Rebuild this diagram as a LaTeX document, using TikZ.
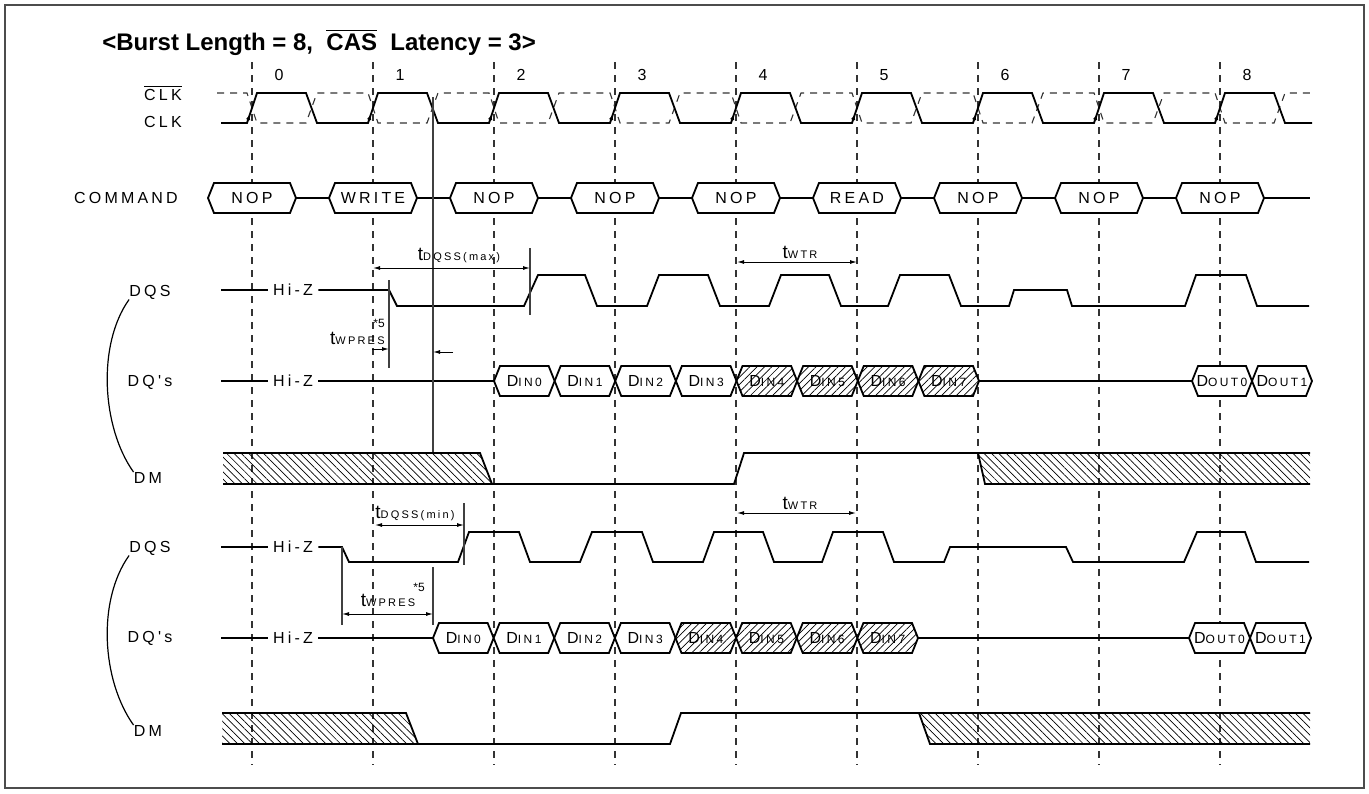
\documentclass[tikz,border=0pt]{standalone}
\usepackage{fontspec}
\setmainfont{Liberation Sans}
\newfontfamily\lsfont[LetterSpace=20]{Liberation Sans}
\usetikzlibrary{arrows.meta,patterns.meta}

\newcommand{\hexbox}[6]{%
  \draw[#1] (#2,#4) -- ({#2+6},{#4-15}) -- ({#3-6},{#4-15}) -- (#3,#4) -- ({#3-6},{#4+15}) -- ({#2+6},{#4+15}) -- cycle;
  \node[lbl] (#5) at ({(#2+#3)/2},#4) {#6};}
\newcommand{\din}[1]{D{\fontsize{6}{7}\selectfont IN#1}}
\newcommand{\dout}[1]{D{\fontsize{6}{7}\selectfont OUT#1}}
\newcommand{\tsub}[1]{{\fontsize{9.5}{10}\selectfont t}{\fontsize{5.5}{6}\selectfont #1}}

\begin{document}
\begin{tikzpicture}[x=0.5pt,y=-0.5pt,
  wave/.style={line width=0.9pt},
  gridline/.style={line width=0.55pt,black!80,dash pattern=on 3.5pt off 3pt},
  guide/.style={line width=0.6pt,black!75},
  dim/.style={line width=0.5pt,{Latex[length=3.5pt,width=2pt]}-{Latex[length=3.5pt,width=2pt]}},
  dimto/.style={line width=0.5pt,-{Latex[length=3.5pt,width=2pt]}},
  lbl/.style={inner sep=0pt,font=\lsfont\fontsize{8}{9}\selectfont},
  starnote/.style={inner sep=0pt,font=\fontsize{6}{7}\selectfont},
  hexcell/.style={wave,fill=white},
  hatchdin/.style={wave,preaction={fill=white},pattern={Lines[angle=45,distance=2.6pt,line width=0.35pt]}},
  hatchdm/.style={pattern={Lines[angle=-45,distance=2.6pt,line width=0.35pt]}}]
    \useasboundingbox (0,0) rectangle (1369,793);
    \draw[line width=1pt,black!70] (5,5) rectangle (1364,788);
    \node[anchor=base west,inner sep=0pt,font=\fontsize{12}{14}\selectfont\bfseries] (title) at (102,50) {<Burst Length = 8,\ \ $\overline{\mbox{CAS}}$\ \ Latency = 3>};

    \foreach \k in {0,...,8}{
        \pgfmathsetmacro{\xc}{252+121*\k}
        \draw[gridline] (\xc,62) -- (\xc,765);
        \node[lbl] (num\k) at (\xc+27,75) {\k};
    }

    \node[lbl] (clkbar) at (163,93) {$\overline{\mbox{CLK}}$};
    \node[lbl] (clk) at (163,122) {CLK};
    \draw[gridline] (217,93) \foreach \k in {0,...,8}{ -- ({252+121*\k-5},93) -- ({252+121*\k+5},123) -- ({252+121*\k+54},123) -- ({252+121*\k+65},93) } -- (1312,93);
    \draw[wave] (221,123) \foreach \k in {0,...,8}{ -- ({252+121*\k-5},123) -- ({252+121*\k+5},93) -- ({252+121*\k+54},93) -- ({252+121*\k+65},123) } -- (1312,123);
    \foreach \k in {0,...,8}{
        \pgfmathsetmacro{\xc}{252+121*\k}
        \draw[line width=0.5pt,-{Latex[length=3pt,width=2.2pt]}] (\xc-5,123) -- (\xc-2,114);
    }

    \node[lbl] (command) at (126,198) {COMMAND};
    \foreach \k/\cmd in {0/NOP,1/WRITE,2/NOP,3/NOP,4/NOP,5/READ,6/NOP,7/NOP,8/NOP}{
        \pgfmathsetmacro{\xc}{252+121*\k}
        \hexbox{hexcell}{\xc-44}{\xc+44}{198}{cmd\k}{\cmd}
    }
    \foreach \k in {0,...,7}{
        \pgfmathsetmacro{\xc}{252+121*\k}
        \draw[wave] (\xc+44,198) -- (\xc+77,198);
    }
    \draw[wave] (1264,198) -- (1310,198);

    \node[lbl] (dqsA) at (150,292) {DQS};
    \node[lbl] (dqA) at (150,382) {DQ's};
    \node[lbl] (dmA) at (148,478) {DM};
    \draw[line width=0.6pt] (dqsA.south west) .. controls +(-32,45) and +(-32,-45) .. (dmA.north west);

    \node[lbl,inner sep=2.5pt] (hizA) at (293,290) {Hi-Z};
    \draw[wave] (221,290) -- (hizA.west);
    \draw[wave] (hizA.east) -- (389,290) -- (397,306) -- (524,306) -- (538,275) -- (585,275) -- (597,306) -- (647,306) -- (659,275) -- (708,275) -- (720,306) -- (769,306) -- (781,275) -- (829,275) -- (841,306) -- (888,306) -- (900,275) -- (949,275) -- (961,306) -- (1009,306) -- (1014,290) -- (1067,290) -- (1072,306) -- (1185,306) -- (1196,275) -- (1246,275) -- (1257,306) -- (1309,306);

    \node[lbl,inner sep=2.5pt] (hizB) at (293,381) {Hi-Z};
    \draw[wave] (221,381) -- (hizB.west);
    \draw[wave] (hizB.east) -- (494,381);
    \foreach \i in {0,...,3}{
        \pgfmathsetmacro{\xa}{494+60.625*\i}
        \hexbox{hexcell}{\xa}{\xa+60.625}{381}{dinA\i}{\din{\i}}
    }
    \foreach \i in {4,...,7}{
        \pgfmathsetmacro{\xa}{494+60.625*\i}
        \hexbox{hatchdin}{\xa}{\xa+60.625}{381}{dinA\i}{\din{\i}}
    }
    \draw[wave] (979,381) -- (1192,381);
    \hexbox{hexcell}{1192}{1252}{381}{doutA0}{\dout{0}}
    \hexbox{hexcell}{1252}{1312}{381}{doutA1}{\dout{1}}

    \path[hatchdm] (223,453) -- (480,453) -- (492,484) -- (223,484) -- cycle;
    \draw[wave] (223,453) -- (480,453) -- (492,484);
    \draw[wave] (223,484) -- (734,484) -- (744,453) -- (1310,453);
    \path[hatchdm] (978,453) -- (1310,453) -- (1310,484) -- (985,484) -- cycle;
    \draw[wave] (978,453) -- (985,484) -- (1310,484);

    \draw[guide] (433,97) -- (433,452);
    \draw[guide] (530,248) -- (530,315);
    \draw[guide] (389,280) -- (389,368);
    \draw[dim] (373,268) -- (530,268);
    \node[lbl] (dqssmax) at (459,255) {\tsub{DQSS(max)}};
    \draw[dimto] (372,349) -- (389,349);
    \node[lbl,anchor=east] (wpresA) at (385,338) {\tsub{WPRES}};
    \node[starnote] (starA) at (379,323) {*5};
    \draw[dimto] (453,352) -- (433,352);
    \draw[dim] (737,262) -- (857,262);
    \node[lbl] (wtrA) at (800,252) {\tsub{WTR}};

    \node[lbl] (dqsB) at (150,548) {DQS};
    \node[lbl] (dqB) at (150,638) {DQ's};
    \node[lbl] (dmB) at (148,731) {DM};
    \draw[line width=0.6pt] (dqsB.south west) .. controls +(-32,45) and +(-32,-45) .. (dmB.north west);

    \node[lbl,inner sep=2.5pt] (hizC) at (293,547) {Hi-Z};
    \draw[wave] (221,547) -- (hizC.west);
    \draw[wave] (hizC.east) -- (342,547) -- (349,562) -- (458,562) -- (469,532) -- (519,532) -- (530,562) -- (580,562) -- (592,532) -- (642,532) -- (653,562) -- (703,562) -- (714,532) -- (763,532) -- (774,562) -- (822,562) -- (833,532) -- (883,532) -- (894,562) -- (944,562) -- (950,547) -- (1066,547) -- (1073,562) -- (1184,562) -- (1197,532) -- (1245,532) -- (1256,562) -- (1309,562);

    \node[lbl,inner sep=2.5pt] (hizD) at (293,638) {Hi-Z};
    \draw[wave] (221,638) -- (hizD.west);
    \draw[wave] (hizD.east) -- (433,638);
    \foreach \i in {0,...,3}{
        \pgfmathsetmacro{\xa}{433+60.625*\i}
        \hexbox{hexcell}{\xa}{\xa+60.625}{638}{dinB\i}{\din{\i}}
    }
    \foreach \i in {4,...,7}{
        \pgfmathsetmacro{\xa}{433+60.625*\i}
        \hexbox{hatchdin}{\xa}{\xa+60.625}{638}{dinB\i}{\din{\i}}
    }
    \draw[wave] (918,638) -- (1189,638);
    \hexbox{hexcell}{1189}{1250}{638}{doutB0}{\dout{0}}
    \hexbox{hexcell}{1250}{1311}{638}{doutB1}{\dout{1}}

    \path[hatchdm] (222,713) -- (406,713) -- (418,744) -- (222,744) -- cycle;
    \draw[wave] (222,713) -- (406,713) -- (418,744);
    \draw[wave] (222,744) -- (670,744) -- (681,713) -- (1310,713);
    \path[hatchdm] (919,713) -- (1310,713) -- (1310,744) -- (930,744) -- cycle;
    \draw[wave] (919,713) -- (930,744) -- (1310,744);

    \draw[guide] (464,503) -- (464,565);
    \draw[guide] (342,547) -- (342,625);
    \draw[guide] (433,567) -- (433,625);
    \draw[dim] (375,525) -- (464,525);
    \node[lbl] (dqssmin) at (415,513) {\tsub{DQSS(min)}};
    \draw[dim] (342,614) -- (433,614);
    \node[lbl] (wpresB) at (388,600) {\tsub{WPRES}};
    \node[starnote] (starB) at (419,587) {*5};
    \draw[dim] (737,513) -- (856,513);
    \node[lbl] (wtrB) at (800,503) {\tsub{WTR}};
\end{tikzpicture}
\end{document}
